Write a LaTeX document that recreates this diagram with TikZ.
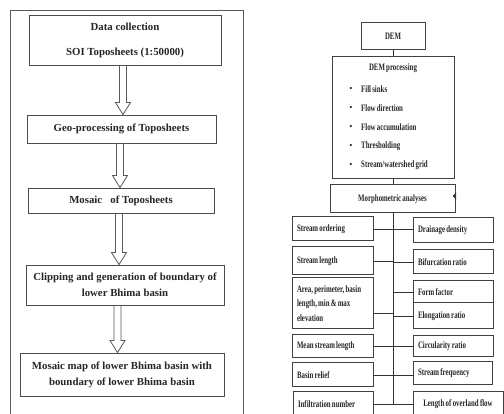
\documentclass[tikz,border=0pt]{standalone}
\usepackage{fontspec}
\setmainfont{Liberation Serif}
\newfontfamily\narrowserif[FakeStretch=0.7,WordSpace=0.7]{Liberation Serif Bold}
\usetikzlibrary{calc}
\newcommand{\ns}{\spaceskip=0pt\xspaceskip=0pt\relax}

\tikzset{
  lbox/.style={draw=black!70, line width=0.9pt, rectangle, inner sep=0pt, align=center,
    font=\bfseries\fontsize{10.8}{16}\selectfont, text=black!85},
  rbox/.style={draw=black!75, line width=1pt, rectangle, inner ysep=0pt,
    font=\narrowserif\fontsize{9.8}{14.5}\selectfont, text=black!85},
  lcol/.style={text width=71pt, inner xsep=5pt, align=left},
  rcol/.style={text width=70pt, inner xsep=5pt, align=left},
  rlabel/.style={inner sep=0pt, font=\narrowserif\fontsize{9.8}{10}\selectfont, text=black!85},
  bul/.style={inner sep=0pt, font=\fontsize{9}{10}\selectfont, text=black!85},
  link/.style={draw=black!80, line width=0.9pt},
  harrow/.style={draw=black!65, line width=0.8pt, line join=miter},
}

\newcommand{\hollowarrow}[3]{%
  \draw[harrow] let \p1=(#1.south), \p2=(#2.north) in
    (#3pt-3.5pt,\y1) -- (#3pt-3.5pt,\y2+12pt) -- (#3pt-7.5pt,\y2+12pt) -- (#3pt,\y2)
    -- (#3pt+7.5pt,\y2+12pt) -- (#3pt+3.5pt,\y2+12pt) -- (#3pt+3.5pt,\y1);
}

\begin{document}
\begin{tikzpicture}[x=1pt,y=-1pt]
\useasboundingbox (0,0) rectangle (504,414);
\clip (0,0) rectangle (504,414);
\fill[white] (0,0) rectangle (504,414);

% ---------------- left panel ----------------
\draw[black!65, line width=1pt] (10,420) -- (10,11) -- (243,11) -- (243,420);

\node[lbox, minimum width=192pt, minimum height=50pt, font=\bfseries\fontsize{10.8}{25}\selectfont]
  (b1) at (125,40) {Data collection\\SOI Toposheets (1:50000)};
\node[lbox, minimum width=189pt, minimum height=28pt] (b2) at (121.5,129) {Geo-processing of Toposheets};
\node[lbox, minimum width=186pt, minimum height=25pt] (b3) at (121,200.5) {Mosaic\ \ \ of Toposheets};
\node[lbox, minimum width=198pt, minimum height=40pt] (b4) at (125,285)
  {Clipping and generation of boundary of\\lower Bhima basin};
\node[lbox, minimum width=204pt, minimum height=43pt] (b5) at (122,374.5)
  {Mosaic map of lower Bhima basin with\\boundary of lower Bhima basin};

\hollowarrow{b1}{b2}{123}
\hollowarrow{b2}{b3}{120}
\hollowarrow{b3}{b4}{119}
\hollowarrow{b4}{b5}{117.5}

% ---------------- right panel ----------------
\node[rbox, minimum width=64pt, minimum height=27pt, align=center] (dem) at (393,36.5) {DEM};
\node[rbox, minimum width=122pt, minimum height=122pt] (demp) at (393,118) {};
\node[rlabel] (dpt) at (393,68) {DEM processing};
\foreach \yy/\txt/\nm in {89/{Fill sinks}/fs, 108/{Flow direction}/fd, 127/{Flow accumulation}/fa,
                          146/{Thresholding}/th, 165/{Stream/watershed grid}/sw}{
  \node[bul] (bul\nm) at (351,\yy) {•};
  \node[rlabel, anchor=west] (t\nm) at (361,\yy) {\txt};
}
\node[rbox, minimum width=125pt, minimum height=28pt, align=center] (morph) at (392.5,199) {\ns Morphometric analyses};
\fill[black!80] (452.5,196) -- (456,192.5) -- (456,199.5) -- cycle;

% left column
\node[rbox, lcol, minimum height=24pt] (so)  at (332.5,229)   {\ns Stream ordering};
\node[rbox, lcol, minimum height=28pt] (sl)  at (332.5,261)   {\ns Stream length};
\node[rbox, lcol, minimum height=51pt] (ap)  at (332.5,303.5) {\ns Area, perimeter, basin\\length, min \& max\\elevation};
\node[rbox, lcol, minimum height=23pt] (ms)  at (332.5,346.5) {\ns Mean stream length};
\node[rbox, lcol, minimum height=24pt] (brl) at (332.5,375)   {\ns Basin relief};
\node[rbox, lcol, text width=70pt, minimum height=24pt] (inf) at (333,404) {\ns Infiltration number};

% right column
\node[rbox, rcol, minimum height=25pt] (dd)  at (453,230.5) {\ns Drainage density};
\node[rbox, rcol, minimum height=24pt] (bif) at (453,262)   {\ns Bifurcation ratio};
\node[rbox, rcol, minimum height=22pt] (ff)  at (453,292)   {\ns Form factor};
\node[rbox, rcol, minimum height=26pt] (el)  at (453,316)   {\ns Elongation ratio};
\node[rbox, rcol, minimum height=21pt] (cr)  at (453,346.5) {\ns Circularity ratio};
\node[rbox, rcol, text width=69pt, minimum height=23pt] (sf) at (452.5,373.5) {\ns Stream frequency};
\node[rbox, text width=80pt, inner xsep=5pt, align=center, minimum height=24pt] (lof) at (458,404) {\ns Length of overland flow};

% connectors
\coordinate (spineend) at (393,404);
\draw[link] (dem.south) -- (demp.north);
\draw[link] (demp.south) -- (demp.south |- morph.north);
\draw[link] (morph.south -| spineend) -- (spineend);
\draw[link] (so.east) -- (so.east -| dd.west);
\draw[link] (sl.east) -- (sl.east -| spineend);
\draw[link] (bif.west -| spineend) -- (bif.west);
\draw[link] ([yshift=-9.5pt]ap.east) -- ([yshift=-9.5pt]ap.east -| spineend);
\draw[link] (ff.west -| spineend) -- (ff.west);
\draw[link] (el.west -| spineend) -- (el.west);
\draw[link] (ms.east) -- (ms.east -| cr.west);
\draw[link] (brl.east) -- (brl.east -| sf.west);
\draw[link] (inf.east) -- (inf.east -| lof.west);
\end{tikzpicture}
\end{document}
